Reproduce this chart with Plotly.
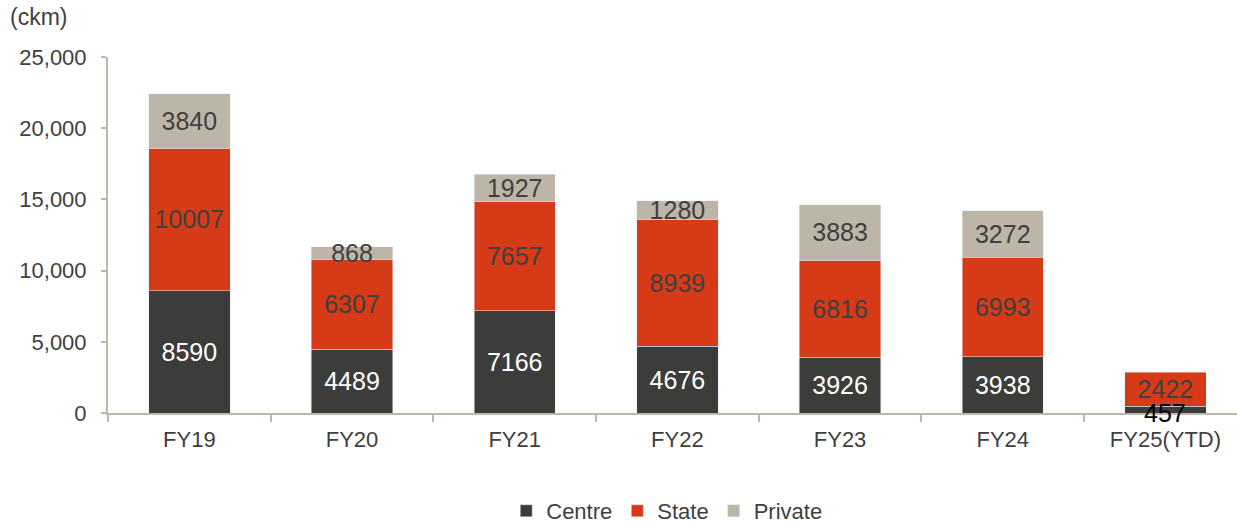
import plotly.graph_objects as go

categories = ["FY19", "FY20", "FY21", "FY22", "FY23", "FY24", "FY25(YTD)"]
centre = [8590, 4489, 7166, 4676, 3926, 3938, 457]
state = [10007, 6307, 7657, 8939, 6816, 6993, 2422]
private = [3840, 868, 1927, 1280, 3883, 3272, None]

FONT = "Liberation Sans, Arial, sans-serif"
TXT = "#404040"
AX = "#bfb8aa"
LBL = 25
TICK = 22

fig = go.Figure()

centre_pos = ["inside"] * (len(centre) - 1) + ["none"]
fig.add_trace(go.Bar(
    name="Centre", x=categories, y=centre, marker_color="#3c3c3a",
    text=[str(v) for v in centre], textposition=centre_pos,
    insidetextanchor="middle", constraintext="none",
    textfont=dict(color="white", size=LBL, family=FONT),
))
fig.add_trace(go.Bar(
    name="State", x=categories, y=state, marker_color="#d63a16",
    text=[str(v) for v in state], textposition="inside",
    insidetextanchor="middle", constraintext="none",
    textfont=dict(color=TXT, size=LBL, family=FONT),
))
fig.add_trace(go.Bar(
    name="Private", x=categories, y=private, marker_color="#bdb5a8",
    text=[("" if v is None else str(v)) for v in private], textposition="inside",
    insidetextanchor="middle", constraintext="none",
    textfont=dict(color=TXT, size=LBL, family=FONT),
))

# label for the thin FY25 Centre segment (overflows the bar, as in the original)
fig.add_annotation(x=categories[-1], y=centre[-1] / 2, text=str(centre[-1]),
                   showarrow=False, font=dict(color="black", size=LBL, family=FONT),
                   yshift=-3)

fig.add_annotation(xref="paper", yref="paper", x=-0.089, y=1.113, xanchor="left",
                   yanchor="middle", text="(ckm)", showarrow=False,
                   font=dict(color=TXT, size=23, family=FONT))

fig.update_layout(
    barmode="stack", bargap=0.5,
    width=1237, height=521,
    margin=dict(l=108, r=0, t=57, b=108, autoexpand=False),
    plot_bgcolor="white", paper_bgcolor="white",
    font=dict(family=FONT, color=TXT, size=TICK),
    uniformtext=dict(mode="show", minsize=20),
    legend=dict(orientation="h", x=0.539, xanchor="center", xref="container",
                y=(521 - 511) / 521, yanchor="middle", yref="container",
                traceorder="normal",
                font=dict(size=TICK, color=TXT, family=FONT), itemwidth=30),
    xaxis=dict(range=[-0.5, 6.44], showline=True, linecolor=AX, linewidth=2,
               ticks="outside", tickson="boundaries", ticklen=7, tickcolor=AX,
               tickwidth=2, showgrid=False, automargin=False, ticklabelstandoff=6,
               tickfont=dict(size=TICK, color=TXT)),
    yaxis=dict(range=[0, 25000], dtick=5000, tickformat=",", showline=True,
               linecolor=AX, linewidth=2, ticks="outside", ticklen=5, tickcolor=AX,
               tickwidth=2, showgrid=False, zeroline=False, automargin=False,
               ticklabelstandoff=10, tickfont=dict(size=TICK, color=TXT)),
)

fig.write_html("out.html", config={"displayModeBar": False},
               post_script="document.body.style.margin='0';document.body.style.overflow='hidden';")
